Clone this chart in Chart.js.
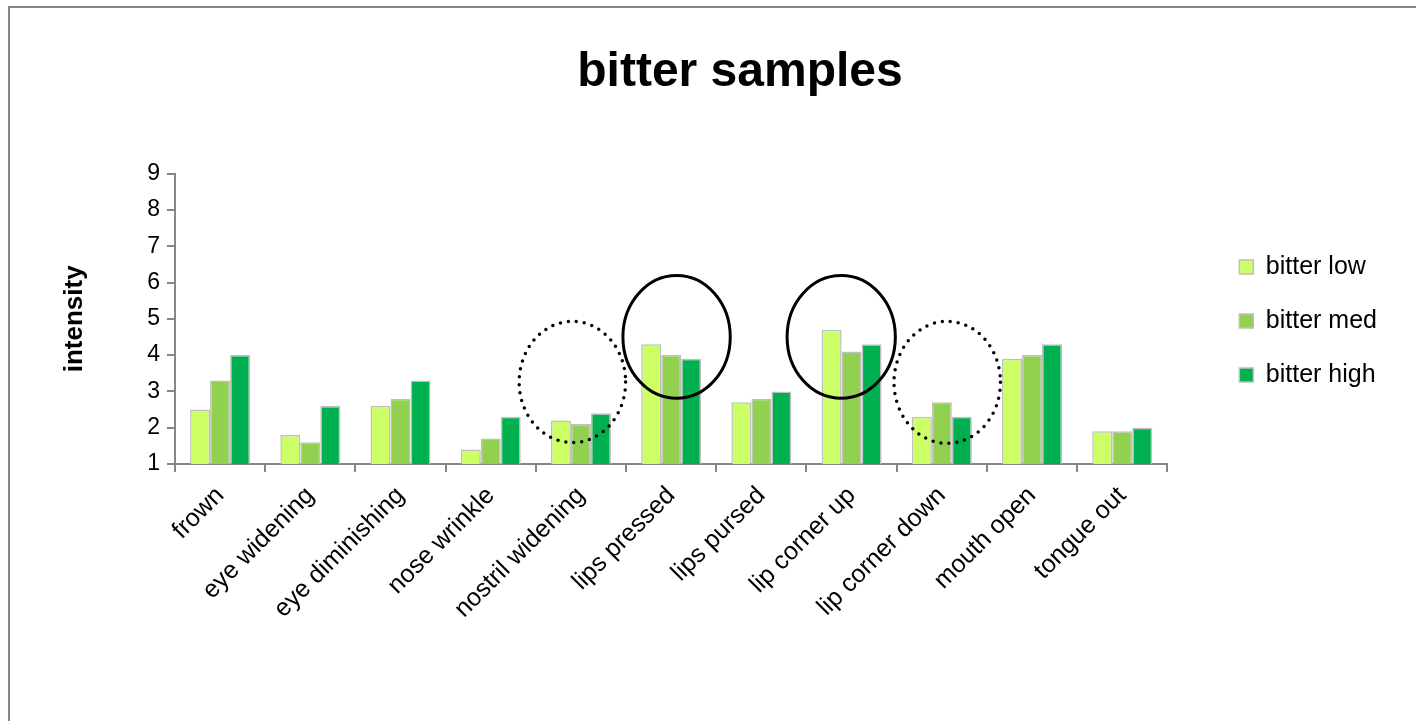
<!DOCTYPE html>
<html>
<head>
<meta charset="utf-8">
<script src="https://cdn.jsdelivr.net/npm/chart.js@4.4.1/dist/chart.umd.min.js"></script>
<style>
    html, body { margin: 0; padding: 0; background: #fff; overflow: hidden; }
    #frame {
        position: absolute;
        left: 8px;
        top: 6px;
        width: 1600px;
        height: 900px;
        border: 2px solid #868686;
    }
    #box { position: absolute; left: 0; top: 0; width: 1460px; height: 626px; }
</style>
</head>
<body>
<div id="frame">
    <div id="box"><canvas id="chart"></canvas></div>
</div>
<script>
const categories = ['frown', 'eye widening', 'eye diminishing', 'nose wrinkle', 'nostril widening',
    'lips pressed', 'lips pursed', 'lip corner up', 'lip corner down', 'mouth open', 'tongue out'];
const bitterLow = [2.5, 1.8, 2.6, 1.4, 2.2, 4.3, 2.7, 4.7, 2.3, 3.9, 1.9];
const bitterMed = [3.3, 1.6, 2.8, 1.7, 2.1, 4.0, 2.8, 4.1, 2.7, 4.0, 1.9];
const bitterHigh = [4.0, 2.6, 3.3, 2.3, 2.4, 3.9, 3.0, 4.3, 2.3, 4.3, 2.0];
const yTicks = [1, 2, 3, 4, 5, 6, 7, 8, 9];

// circled groups: category index, shift in category widths, centre value, radii
const circles = [
    { cat: 4, dx: -0.095, y: 3.26, rx: 0.59, ry: 1.67, dotted: true },
    { cat: 5, dx: 0.06, y: 4.5, rx: 0.595, ry: 1.69, dotted: false },
    { cat: 7, dx: -0.115, y: 4.5, rx: 0.6, ry: 1.69, dotted: false },
    { cat: 8, dx: 0.06, y: 3.25, rx: 0.59, ry: 1.68, dotted: true }
];

const font = 'Arial, "Liberation Sans", sans-serif';
const axisGrey = '#868686';

const circlePlugin = {
    id: 'circles',
    afterDatasetsDraw(chart) {
        const { ctx, scales: { x, y } } = chart;
        const catW = x.getPixelForValue(1) - x.getPixelForValue(0);
        ctx.save();
        ctx.strokeStyle = '#000';
        circles.forEach(c => {
            const cx = x.getPixelForValue(c.cat) + c.dx * catW;
            const cy = y.getPixelForValue(c.y);
            const ry = Math.abs(y.getPixelForValue(c.y + c.ry) - cy);
            ctx.beginPath();
            ctx.ellipse(cx, cy, c.rx * catW, ry, 0, 0, Math.PI * 2);
            if (c.dotted) {
                ctx.setLineDash([0, 8]);
                ctx.lineCap = 'round';
                ctx.lineWidth = 3.5;
            } else {
                ctx.setLineDash([]);
                ctx.lineWidth = 3;
            }
            ctx.stroke();
        });
        ctx.restore();
    }
};

function spacer(w, weight) {
    return {
        position: 'right',
        type: 'linear',
        weight: weight,
        display: true,
        grid: { display: false, drawTicks: false },
        ticks: { display: false },
        border: { display: false },
        afterFit: (s) => { s.width = w; }
    };
}

const barBorder = '#bfbfbf';

new Chart(document.getElementById('chart').getContext('2d'), {
    type: 'bar',
    data: {
        labels: categories,
        datasets: [
            { label: 'bitter low', data: bitterLow, backgroundColor: '#ccff66' },
            { label: 'bitter med', data: bitterMed, backgroundColor: '#92d050' },
            { label: 'bitter high', data: bitterHigh, backgroundColor: '#00b050' }
        ].map(d => Object.assign(d, {
            borderColor: barBorder,
            borderWidth: 1.5,
            borderSkipped: false,
            inflateAmount: 0,
            categoryPercentage: 0.665,
            barPercentage: 1
        }))
    },
    options: {
        responsive: true,
        maintainAspectRatio: false,
        animation: false,
        layout: { padding: 0 },
        plugins: {
            title: {
                display: true,
                text: 'bitter samples',
                color: '#000',
                font: { family: font, size: 48, weight: 'bold' },
                padding: { top: 36, bottom: 72 }
            },
            legend: {
                position: 'right',
                labels: {
                    color: '#000',
                    font: { family: font, size: 25 },
                    boxWidth: 14,
                    boxHeight: 14,
                    padding: 29
                }
            },
            tooltip: { enabled: false }
        },
        scales: {
            x: {
                grid: { drawOnChartArea: false, drawTicks: true, tickLength: 8, color: axisGrey, lineWidth: 2 },
                border: { color: axisGrey, width: 2 },
                ticks: {
                    color: '#000',
                    font: { family: font, size: 25 },
                    maxRotation: 45,
                    minRotation: 45,
                    padding: 9,
                    autoSkip: false
                },
                afterFit: (s) => { s.height = 170; }
            },
            y: {
                min: yTicks[0],
                max: yTicks[yTicks.length - 1],
                afterBuildTicks: (s) => { s.ticks = yTicks.map(v => ({ value: v })); },
                grid: { drawOnChartArea: false, drawTicks: true, tickLength: 8, color: axisGrey, lineWidth: 2 },
                border: { color: axisGrey, width: 2 },
                ticks: { color: '#000', font: { family: font, size: 23 }, padding: 7 },
                title: {
                    display: true,
                    text: 'intensity',
                    color: '#000',
                    font: { family: font, size: 26, weight: 'bold' },
                    padding: { top: 49, bottom: 0 }
                },
                afterFit: (s) => { s.width = 165; }
            },
            padA: spacer(43, 0),
            padB: spacer(83, 2000)
        }
    },
    plugins: [circlePlugin]
});
</script>
</body>
</html>
